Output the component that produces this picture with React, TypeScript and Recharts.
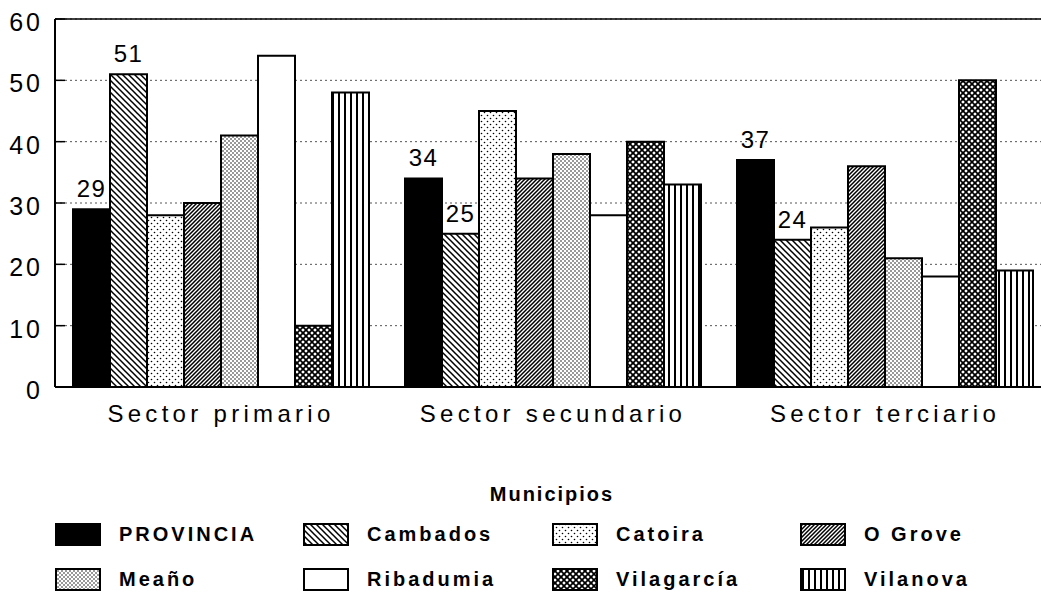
import React from 'react';
import { BarChart, Bar, XAxis, YAxis, CartesianGrid, Legend, LabelList, ReferenceLine } from 'recharts';

const categories = ['Sector primario', 'Sector secundario', 'Sector terciario'];
const seriesNames = ['PROVINCIA', 'Cambados', 'Catoira', 'O Grove', 'Meaño', 'Ribadumia', 'Vilagarcía', 'Vilanova'];
const provincia = [29, 34, 37];
const cambados = [51, 25, 24];
const catoira = [28, 45, 26];
const oGrove = [30, 34, 36];
const meano = [41, 38, 21];
const ribadumia = [54, 28, 18];
const vilagarcia = [10, 40, 50];
const vilanova = [48, 33, 19];
const yTicks = [0, 10, 20, 30, 40, 50, 60];
const legendTitle = 'Municipios';
const labelledSeries = ['PROVINCIA', 'Cambados'];

const seriesValues = [provincia, cambados, catoira, oGrove, meano, ribadumia, vilagarcia, vilanova];

const data = categories.map((cat, i) => {
  const row: Record<string, string | number> = { category: cat };
  seriesNames.forEach((n, s) => {
    row[n] = seriesValues[s][i];
  });
  return row;
});

const fills: Record<string, string> = {
  'PROVINCIA': '#000000',
  'Cambados': 'url(#p-camb)',
  'Catoira': 'url(#p-cat)',
  'O Grove': 'url(#p-grove)',
  'Meaño': 'url(#p-meano)',
  'Ribadumia': '#ffffff',
  'Vilagarcía': 'url(#p-vila)',
  'Vilanova': 'url(#p-vnova)',
};

const FONT = '"Liberation Sans", Arial, Helvetica, sans-serif';

const Patterns = () => (
  <defs>
    <pattern id="p-camb" patternUnits="userSpaceOnUse" width="6" height="6">
      <rect width="6" height="6" fill="#fff" />
      <path d="M-1,-1 L7,7 M-1,5 L1,7 M5,-1 L7,1" stroke="#000" strokeWidth="1.5" />
    </pattern>
    <pattern id="p-grove" patternUnits="userSpaceOnUse" width="4" height="4">
      <rect width="4" height="4" fill="#fff" />
      <path d="M-1,1 L1,-1 M0,4 L4,0 M3,5 L5,3" stroke="#000" strokeWidth="1.5" />
    </pattern>
    <pattern id="p-vnova" patternUnits="userSpaceOnUse" width="6" height="6">
      <rect width="6" height="6" fill="#fff" />
      <path d="M3,0 L3,6" stroke="#000" strokeWidth="2" />
    </pattern>
    <pattern id="p-cat" patternUnits="userSpaceOnUse" width="6" height="6">
      <rect width="6" height="6" fill="#fff" />
      <circle cx="1.5" cy="1.5" r="0.8" fill="#000" />
      <circle cx="4.5" cy="4.5" r="0.8" fill="#000" />
    </pattern>
    <pattern id="p-meano" patternUnits="userSpaceOnUse" width="4" height="4">
      <rect width="4" height="4" fill="#fff" />
      <circle cx="1" cy="1" r="0.75" fill="#000" />
      <circle cx="3" cy="3" r="0.75" fill="#000" />
    </pattern>
    <pattern id="p-vila" patternUnits="userSpaceOnUse" width="6" height="6">
      <rect width="6" height="6" fill="#fff" />
      <path d="M-1,-1 L7,7 M-1,5 L1,7 M5,-1 L7,1 M-1,7 L7,-1 M-1,1 L1,-1 M5,7 L7,5" stroke="#000" strokeWidth="1.7" />
    </pattern>
  </defs>
);

const legendCols = [55, 303, 552, 800];
const legendRows = [523, 568];

const renderLegend = () => {
  return (
    <div style={{ position: 'relative', width: 1041, height: 123, fontFamily: FONT, color: '#000' }}>
      <div
        style={{
          position: 'absolute',
          left: 0,
          width: 1104,
          top: 12,
          textAlign: 'center',
          fontSize: 20,
          fontWeight: 'bold',
          letterSpacing: 2,
          lineHeight: '24px',
        }}
      >
        {legendTitle}
      </div>
      {seriesNames.map((n, i) => {
        const col = i % 4;
        const row = Math.floor(i / 4);
        const x = legendCols[col];
        const y = legendRows[row] - 470;
        return (
          <div key={n} style={{ position: 'absolute', left: x, top: y, height: 23, display: 'flex', alignItems: 'center' }}>
            <svg width={46} height={23} style={{ display: 'block' }}>
              <rect x={1} y={1} width={44} height={21} fill={fills[n]} stroke="#000" strokeWidth={2} />
            </svg>
            <span style={{ marginLeft: 18, fontSize: 20, fontWeight: 'bold', letterSpacing: 3, lineHeight: '23px', whiteSpace: 'nowrap' }}>{n}</span>
          </div>
        );
      })}
    </div>
  );
};

export default function App() {
  return (
    <div style={{ position: 'absolute', left: 0, top: 0, width: 1041, height: 593, overflow: 'hidden', background: '#fff' }}>
      <BarChart
        width={1055}
        height={593}
        data={data}
        margin={{ top: 19, right: 4, left: 0, bottom: 146 }}
        barCategoryGap={18}
        barGap={0}
      >
        <Patterns />
        <CartesianGrid vertical={false} stroke="#555" strokeDasharray="2 3" strokeWidth={1} />
        <XAxis
          dataKey="category"
          height={60}
          tickLine={false}
          axisLine={{ stroke: '#000', strokeWidth: 2 }}
          tickMargin={12}
          tick={{ fill: '#000', fontSize: 24, fontFamily: FONT, letterSpacing: 4.3 }}
        />
        <YAxis
          width={55}
          domain={[0, 60]}
          ticks={yTicks}
          interval={0}
          axisLine={{ stroke: '#000', strokeWidth: 2 }}
          tickLine={{ stroke: '#000', strokeWidth: 1.5 }}
          tickSize={-10}
          tickMargin={22}
          tick={{ fill: '#000', fontSize: 25, fontFamily: FONT, letterSpacing: 3, dy: 3 }}
        />
        <ReferenceLine y={60} stroke="#000" strokeWidth={1.5} />
        {seriesNames.map((n) => (
          <Bar key={n} dataKey={n} name={n} fill={fills[n]} stroke="#000" strokeWidth={2} isAnimationActive={false}>
            {labelledSeries.includes(n) ? (
              <LabelList
                dataKey={n}
                position="top"
                offset={12}
                style={{ fill: '#000', fontSize: 24, fontFamily: FONT, letterSpacing: 1.5 }}
              />
            ) : null}
          </Bar>
        ))}
        <Legend
          layout="horizontal"
          verticalAlign="middle"
          align="center"
          content={renderLegend}
          wrapperStyle={{ left: 0, top: 470, width: 1041, height: 123 }}
        />
      </BarChart>
    </div>
  );
}
